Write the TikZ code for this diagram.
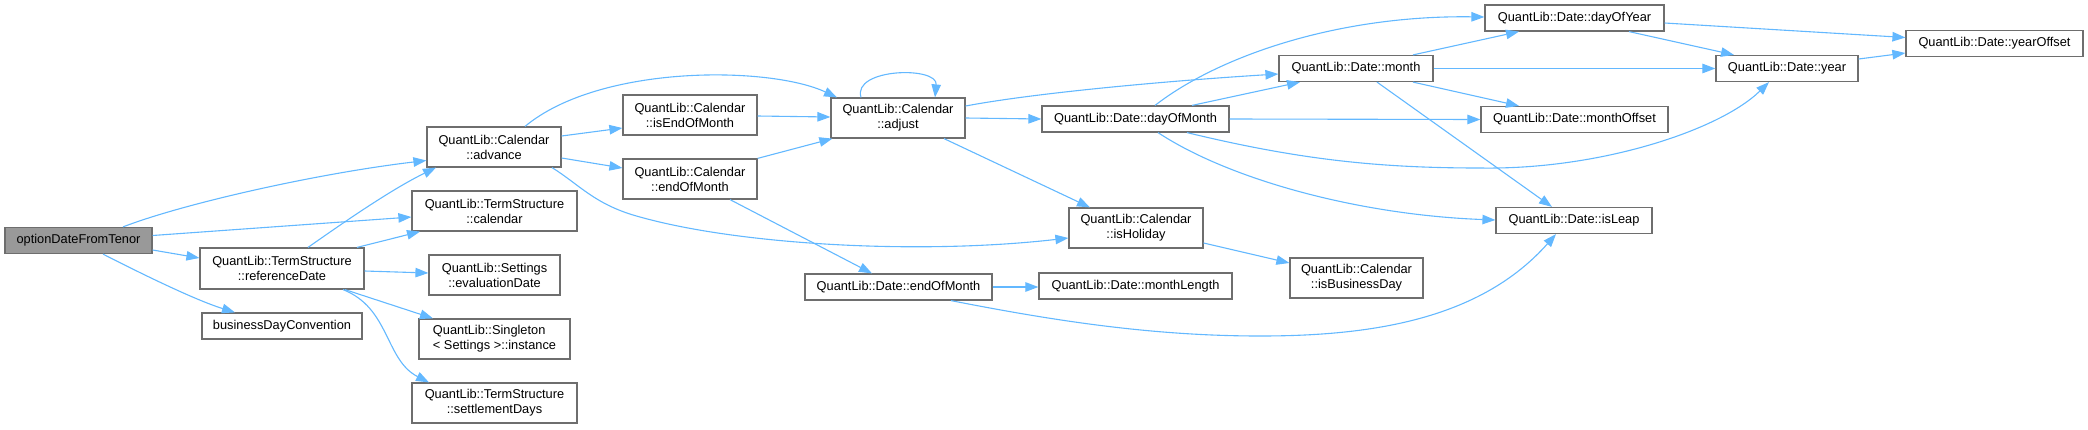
\documentclass[tikz,border=0pt]{standalone}
\usepackage{fontspec}
\setmainfont{Liberation Sans}
\usetikzlibrary{arrows.meta,calc}
\definecolor{edgeblue}{HTML}{63B8FF}
\definecolor{nodeborder}{HTML}{6E6E6E}
\definecolor{rootfill}{HTML}{999999}
\begin{document}
\begin{tikzpicture}[x=1pt,y=-1pt,
  fn/.style={draw=nodeborder, line width=1.2pt, fill=white, inner sep=0pt, align=center,
    font=\fontsize{12.8}{15}\selectfont},
  root/.style={fn, fill=rootfill},
  one/.style={minimum height=26pt},
  two/.style={minimum height=40pt},
  edge/.style={draw=edgeblue, line width=1.1pt, -{Triangle[length=13pt,width=9.5pt]}}]
\useasboundingbox (0,0) rectangle (2088,429);
% nodes
\node[root,one,minimum width=147pt] (opt) at (78.5,240.5) {optionDateFromTenor};
\node[fn,two,minimum width=164pt,minimum height=41pt] (ref) at (282,268.5) {QuantLib::TermStructure\\::referenceDate};
\node[fn,one,minimum width=160pt] (bdc) at (282,326) {businessDayConvention};
\node[fn,two,minimum width=134pt] (adv) at (494,147) {QuantLib::Calendar\\::advance};
\node[fn,two,minimum width=165pt] (tscal) at (494.5,211) {QuantLib::TermStructure\\::calendar};
\node[fn,two,minimum width=131pt] (eval) at (494.5,275) {QuantLib::Settings\\::evaluationDate};
\node[fn,two,minimum width=151pt,align=left] (inst) at (494.5,339) {QuantLib::Singleton\\< Settings >::instance};
\node[fn,two,minimum width=165pt] (settle) at (494.5,403) {QuantLib::TermStructure\\::settlementDays};
\node[fn,two,minimum width=134pt] (iseom) at (690,115) {QuantLib::Calendar\\::isEndOfMonth};
\node[fn,two,minimum width=134pt] (caleom) at (690,179) {QuantLib::Calendar\\::endOfMonth};
\node[fn,two,minimum width=134pt] (adj) at (898,118) {QuantLib::Calendar\\::adjust};
\node[fn,one,minimum width=187pt] (deom) at (898.5,287) {QuantLib::Date::endOfMonth};
\node[fn,one,minimum width=187pt] (dom) at (1135.5,119) {QuantLib::Date::dayOfMonth};
\node[fn,two,minimum width=134pt] (ishol) at (1136,228) {QuantLib::Calendar\\::isHoliday};
\node[fn,one,minimum width=193pt] (mlen) at (1135.5,286) {QuantLib::Date::monthLength};
\node[fn,one,minimum width=154pt] (month) at (1356,68.5) {QuantLib::Date::month};
\node[fn,two,minimum width=133pt] (isbd) at (1356.5,278) {QuantLib::Calendar\\::isBusinessDay};
\node[fn,one,minimum width=179pt] (doy) at (1574.5,18) {QuantLib::Date::dayOfYear};
\node[fn,one,minimum width=187pt] (moff) at (1574.5,119.5) {QuantLib::Date::monthOffset};
\node[fn,one,minimum width=156pt] (isleap) at (1574,220.5) {QuantLib::Date::isLeap};
\node[fn,one,minimum width=142pt] (year) at (1787,68.5) {QuantLib::Date::year};
\node[fn,one,minimum width=177pt] (yoff) at (1994.5,43.5) {QuantLib::Date::yearOffset};
% edges from optionDateFromTenor
\draw[edge] ($(opt.north)+(44.5,0)$) .. controls (185,203) and (320,173) .. ($(adv.west)+(0,13.5)$);
\draw[edge] ($(opt.east)+(0,-5)$) -- ($(tscal.west)+(0,6)$);
\draw[edge] ($(opt.east)+(0,9.5)$) -- ($(ref.west)+(0,-10.5)$);
\draw[edge] ($(opt.south)+(24.5,0)$) .. controls (140,273) and (195,300) .. ($(bdc.north)+(-47,0)$);
% edges from referenceDate
\draw[edge] ($(ref.north)+(26,0)$) .. controls (340,225) and (390,190) .. ($(adv.south)+(-58,0)$);
\draw[edge] ($(ref.north)+(75,0)$) -- ($(tscal.south)+(-74.5,0)$);
\draw[edge] ($(ref.east)+(0,2.5)$) -- ($(eval.west)+(0,-2)$);
\draw[edge] ($(ref.south)+(63,0)$) -- ($(inst.north)+(-61.5,0)$);
\draw[edge] ($(ref.south)+(61,0)$) .. controls (390,308) and (385,360) .. ($(settle.north)+(-65.5,0)$);
% edges from advance
\draw[edge] ($(adv.north)+(31,0)$) .. controls (600,64) and (770,66) .. ($(adj.north)+(-61,0)$);
\draw[edge] ($(adv.east)+(0,-11)$) -- ($(iseom.west)+(0,13)$);
\draw[edge] ($(adv.east)+(0,11)$) -- ($(caleom.west)+(0,-11)$);
\draw[edge] ($(adv.south)+(58,0)$) .. controls (580,185) and (595,205) .. (640,217)
   .. controls (740,245) and (920,255) .. ($(ishol.west)+(0,10)$);
% isEndOfMonth / endOfMonth
\draw[edge] ($(iseom.east)+(0,1)$) -- ($(adj.west)+(0,-1)$);
\draw[edge] (caleom.north east) -- ($(adj.south west)+(2,0)$);
\draw[edge] ($(caleom.south)+(40,0)$) -- ($(deom.north)+(-26.5,0)$);
% adjust
\draw[edge] ($(adj.north)+(-37,0)$) .. controls (852,68) and (938,66) .. ($(adj.north)+(37,0)$);
\draw[edge] ($(adj.east)+(0,-12)$) .. controls (1040,92) and (1180,80) .. ($(month.west)+(0,5.5)$);
\draw[edge] (adj.east) -- (dom.west);
\draw[edge] ($(adj.south)+(46,0)$) -- ($(ishol.north)+(-46,0)$);
% dayOfMonth
\draw[edge] ($(dom.north)+(19.5,0)$) .. controls (1220,55) and (1340,15) .. ($(doy.west)+(0,-1)$);
\draw[edge] ($(dom.north)+(56.5,0)$) -- ($(month.south)+(-56,0)$);
\draw[edge] (dom.east) -- (moff.west);
\draw[edge] ($(dom.south)+(51.5,0)$) .. controls (1300,160) and (1380,168) .. (1480,168)
   .. controls (1600,170) and (1720,130) .. ($(year.south)+(-18,0)$);
\draw[edge] ($(dom.south)+(22.5,0)$) .. controls (1230,180) and (1360,215) .. ($(isleap.west)+(0,-0.5)$);
% month
\draw[edge] ($(month.north)+(57,0)$) -- ($(doy.south)+(-55.5,0)$);
\draw[edge] (month.east) -- (year.west);
\draw[edge] ($(month.south)+(57,0)$) -- ($(moff.north)+(-55.5,0)$);
\draw[edge] ($(month.south)+(21,0)$) -- ($(isleap.north)+(-22,0)$);
% dayOfYear, year
\draw[edge] ($(doy.east)+(0,5)$) -- ($(yoff.west)+(0,-6)$);
\draw[edge] ($(doy.south)+(54.5,0)$) -- ($(year.north)+(-53,0)$);
\draw[edge] ($(year.east)+(0,-9.5)$) -- ($(yoff.west)+(0,9.5)$);
% isHoliday
\draw[edge] ($(ishol.east)+(0,15)$) -- ($(isbd.west)+(0,-15)$);
% Date::endOfMonth
\draw[edge] (deom.east) -- (mlen.west |- deom.east);
\draw[edge] ($(deom.south)+(52.5,0)$) .. controls (1050,320) and (1150,336) .. (1260,336)
   .. controls (1370,336) and (1480,320) .. ($(isleap.south)+(-18,0)$);
\end{tikzpicture}
\end{document}
